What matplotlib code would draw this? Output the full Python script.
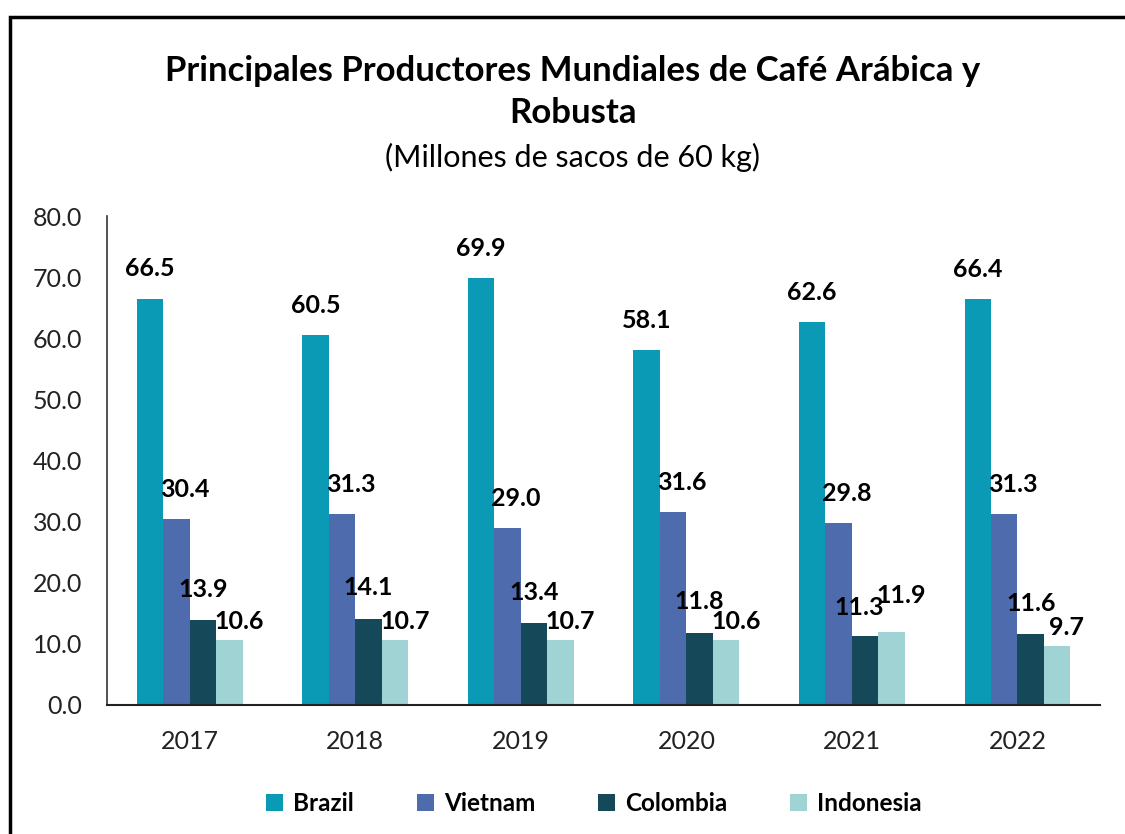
import numpy as np
import matplotlib.pyplot as plt
from matplotlib.patches import Rectangle

plt.rcParams['font.family'] = ['Lato', 'DejaVu Sans']

years = ["2017", "2018", "2019", "2020", "2021", "2022"]
countries = ["Brazil", "Vietnam", "Colombia", "Indonesia"]
brazil = [66.5, 60.5, 69.9, 58.1, 62.6, 66.4]
vietnam = [30.4, 31.3, 29.0, 31.6, 29.8, 31.3]
colombia = [13.9, 14.1, 13.4, 11.8, 11.3, 11.6]
indonesia = [10.6, 10.7, 10.7, 10.6, 11.9, 9.7]
series = [brazil, vietnam, colombia, indonesia]
colors = ["#0A9AB5", "#4E6BAE", "#15495A", "#9FD3D4"]
# label nudges (points) per series: (dx, dy), plus a few one-off tweaks
nudges = [(0, 13), (6, 13), (0, 14), (7, 5)]
special = {(2, 4): (-4, 12), (3, 4): (7, 18)}

fig = plt.figure(figsize=(11.25, 8.34), dpi=100)
ax = fig.add_axes([0.0951, 0.1547, 0.8829, 0.5863])

x = np.arange(len(years))
w = 0.16
for i, (name, vals, col) in enumerate(zip(countries, series, colors)):
    pos = x + (i - 1.5) * w
    bars = ax.bar(pos, vals, w, color=col, label=name, linewidth=0)
    for j, (b, v) in enumerate(zip(bars, vals)):
        dx, dy = special.get((i, j), nudges[i])
        ax.annotate(f"{v:.1f}", (b.get_x() + b.get_width() / 2, v),
                    xytext=(dx, dy), textcoords="offset points",
                    ha="center", va="bottom", fontsize=18, fontweight="bold")

ax.set_xlim(-0.5, len(years) - 0.5)
ax.set_ylim(0, 80)
ax.set_yticks(np.arange(0, 81, 10))
ax.set_yticklabels([f"{t:.1f}" for t in np.arange(0, 81, 10)])
ax.set_xticks(x)
ax.set_xticklabels(years)
ax.tick_params(axis="both", length=0, labelsize=18, colors="#222222")
ax.tick_params(axis="y", pad=18)
ax.tick_params(axis="x", pad=18)
ax.spines["top"].set_visible(False)
ax.spines["right"].set_visible(False)
ax.spines["left"].set_color("#333333")
ax.spines["bottom"].set_color("#222222")
ax.spines["left"].set_linewidth(1.2)
ax.spines["bottom"].set_linewidth(1.5)

fig.text(0.509, 0.915, "Principales Productores Mundiales de Café Arábica y",
         ha="center", va="center", fontsize=25, fontweight="bold")
fig.text(0.509, 0.865, "Robusta", ha="center", va="center",
         fontsize=25, fontweight="bold")
fig.text(0.509, 0.811, "(Millones de sacos de 60 kg)", ha="center",
         va="center", fontsize=22)

leg = fig.legend(loc="center", bbox_to_anchor=(0.528, 0.037), ncol=4,
                 frameon=False, handlelength=0.7, handleheight=0.7,
                 handletextpad=0.4, columnspacing=2.6,
                 prop={"size": 17.5, "weight": "bold"})

# outer chart border (partly cropped in the reference)
fig.patches.append(Rectangle((10 / 1125, -0.1), 1.2, 1 - 16.5 / 834 + 0.1,
                             transform=fig.transFigure, fill=False,
                             edgecolor="black", linewidth=2.5))

fig.savefig("out.png", dpi=100, facecolor="white")
